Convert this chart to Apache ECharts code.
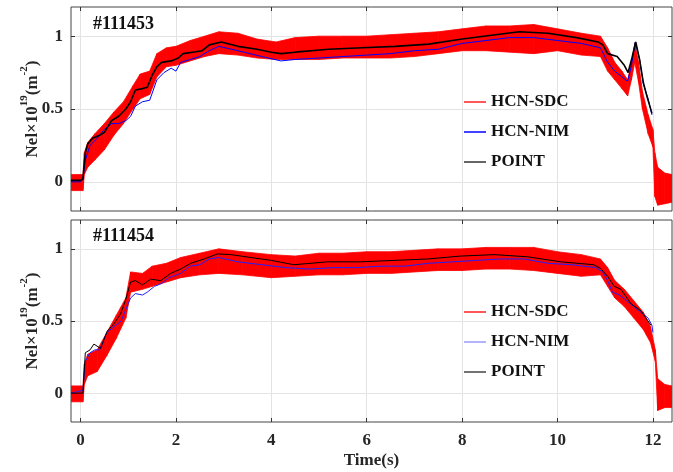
<!DOCTYPE html>
<html>
<head>
<meta charset="utf-8">
<script src="https://cdn.jsdelivr.net/npm/echarts@6/dist/echarts.min.js"></script>
<style>
  html, body { margin: 0; padding: 0; background: #fff; }
  #chart { width: 673px; height: 472px; }
</style>
</head>
<body>
<div id="chart"></div>
<script>
// tick labels
const xTicks = [0, 2, 4, 6, 8, 10, 12];
const yTicks = [0, 0.5, 1];
const shotNames = ['#111453', '#111454'];

// ---- shot #111453 ----
// POINT [t, value]
const pointTop = [[-0.2,0.01],[0,0.01],[0.05,0.02],[0.1,0.2],[0.15,0.26],[0.25,0.3],[0.4,0.32],[0.5,0.34],[0.65,0.42],[0.8,0.45],[0.95,0.5],[1.05,0.55],[1.15,0.63],[1.3,0.64],[1.4,0.65],[1.5,0.73],[1.6,0.79],[1.7,0.82],[1.9,0.83],[2.05,0.85],[2.15,0.88],[2.35,0.89],[2.55,0.9],[2.7,0.94],[2.95,0.96],[3.3,0.93],[3.7,0.91],[4.0,0.89],[4.2,0.88],[4.5,0.89],[5.2,0.91],[5.9,0.92],[6.6,0.93],[7.3,0.945],[8.0,0.98],[8.7,1.01],[9.2,1.03],[9.8,1.02],[10.4,0.99],[10.85,0.96],[10.95,0.94],[11.05,0.88],[11.25,0.86],[11.4,0.8],[11.48,0.75],[11.56,0.85],[11.64,0.96],[11.72,0.84],[11.8,0.68],[11.88,0.58],[11.98,0.47]];
// HCN-NIM [t, value]
const nimTop = [[-0.2,0.0],[0,0.0],[0.05,0.02],[0.1,0.15],[0.2,0.25],[0.35,0.3],[0.5,0.36],[0.65,0.4],[0.8,0.4],[0.95,0.42],[1.05,0.45],[1.15,0.52],[1.3,0.55],[1.45,0.56],[1.6,0.7],[1.75,0.75],[1.9,0.78],[2.0,0.76],[2.1,0.82],[2.3,0.84],[2.5,0.86],[2.7,0.9],[2.9,0.93],[3.3,0.9],[3.8,0.86],[4.2,0.83],[4.5,0.84],[5.0,0.85],[5.5,0.86],[6.0,0.87],[6.5,0.88],[7.0,0.9],[7.5,0.91],[8.0,0.95],[8.5,0.97],[9.0,0.99],[9.5,0.99],[10.0,0.97],[10.5,0.95],[10.9,0.92],[11.05,0.82],[11.2,0.76],[11.35,0.72],[11.47,0.69],[11.55,0.8],[11.63,0.96],[11.72,0.84],[11.8,0.67],[11.9,0.57],[11.98,0.46]];
// HCN-SDC is very noisy: read as lower / upper edge of its band
const sdcTopT    = [-0.2, 0.05, 0.08, 0.15, 0.3, 0.5, 0.7, 0.9, 1.1, 1.25, 1.45, 1.6, 1.8, 2.0, 2.3, 2.6, 2.9, 3.3, 3.7, 4.1, 4.5, 5.0, 5.5, 6.0, 6.5, 7.0, 7.5, 8.0, 8.5, 9.0, 9.5, 10.0, 10.5, 10.9, 11.05, 11.2, 11.35, 11.47, 11.55, 11.62, 11.7, 11.78, 11.9, 12.0, 12.04, 12.1, 12.25, 12.4];
const sdcTopLow  = [-0.06, -0.06, 0.05, 0.1, 0.15, 0.22, 0.32, 0.4, 0.5, 0.57, 0.6, 0.72, 0.79, 0.8, 0.83, 0.86, 0.88, 0.87, 0.85, 0.84, 0.84, 0.84, 0.85, 0.85, 0.85, 0.86, 0.88, 0.9, 0.9, 0.89, 0.88, 0.9, 0.87, 0.86, 0.76, 0.7, 0.64, 0.59, 0.7, 0.82, 0.68, 0.5, 0.33, 0.24, -0.1, -0.16, -0.15, -0.14];
const sdcTopHigh = [0.05, 0.05, 0.2, 0.27, 0.33, 0.4, 0.48, 0.55, 0.66, 0.74, 0.76, 0.88, 0.92, 0.93, 0.97, 1.0, 1.03, 1.02, 0.98, 0.96, 0.99, 1.0, 1.0, 1.0, 1.01, 1.02, 1.03, 1.05, 1.07, 1.07, 1.08, 1.05, 1.02, 1.0, 0.92, 0.82, 0.76, 0.7, 0.82, 0.95, 0.82, 0.62, 0.46, 0.36, 0.2, 0.1, 0.06, 0.05];

// ---- shot #111454 ----
const pointBot = [[-0.2,0.0],[0.05,0.0],[0.1,0.28],[0.2,0.3],[0.28,0.34],[0.42,0.31],[0.56,0.43],[0.7,0.48],[0.84,0.55],[0.94,0.64],[1.05,0.77],[1.15,0.78],[1.3,0.75],[1.47,0.79],[1.68,0.78],[1.89,0.83],[2.1,0.86],[2.31,0.9],[2.59,0.93],[2.87,0.965],[3.15,0.96],[3.57,0.94],[4.0,0.92],[4.47,0.89],[5.18,0.91],[5.87,0.91],[6.57,0.92],[7.28,0.93],[7.97,0.95],[8.67,0.96],[9.37,0.945],[10.07,0.91],[10.76,0.89],[10.9,0.865],[11.05,0.81],[11.19,0.74],[11.33,0.72],[11.54,0.62],[11.75,0.57],[11.96,0.47]];
const nimBot = [[-0.2,0.0],[0.05,0.02],[0.1,0.22],[0.2,0.28],[0.3,0.3],[0.4,0.3],[0.55,0.42],[0.7,0.46],[0.85,0.5],[0.95,0.58],[1.05,0.66],[1.15,0.69],[1.3,0.68],[1.4,0.7],[1.55,0.74],[1.7,0.76],[1.85,0.8],[2.1,0.83],[2.3,0.88],[2.5,0.89],[2.7,0.93],[2.9,0.94],[3.3,0.91],[3.8,0.89],[4.3,0.87],[4.8,0.86],[5.3,0.87],[5.8,0.87],[6.3,0.88],[6.8,0.88],[7.3,0.9],[7.8,0.91],[8.3,0.92],[8.8,0.93],[9.3,0.93],[9.8,0.9],[10.3,0.89],[10.8,0.87],[10.95,0.84],[11.05,0.78],[11.15,0.7],[11.3,0.68],[11.45,0.64],[11.6,0.6],[11.75,0.56],[11.9,0.52],[11.98,0.47],[12.0,0.42]];
const sdcBotT    = [-0.2, 0.05, 0.08, 0.15, 0.35, 0.55, 0.75, 0.95, 1.05, 1.3, 1.5, 1.8, 2.1, 2.5, 2.9, 3.4, 4.0, 4.5, 5.0, 5.5, 6.0, 6.5, 7.0, 7.5, 8.0, 8.5, 9.0, 9.5, 10.0, 10.5, 10.9, 11.05, 11.2, 11.4, 11.6, 11.8, 11.95, 12.05, 12.1, 12.25, 12.4];
const sdcBotLow  = [-0.06, -0.06, 0.06, 0.12, 0.15, 0.26, 0.38, 0.52, 0.7, 0.72, 0.74, 0.77, 0.8, 0.82, 0.83, 0.82, 0.8, 0.81, 0.82, 0.82, 0.83, 0.83, 0.84, 0.85, 0.85, 0.86, 0.86, 0.85, 0.83, 0.81, 0.82, 0.74, 0.66, 0.6, 0.52, 0.44, 0.35, 0.22, -0.12, -0.1, -0.1];
const sdcBotHigh = [0.05, 0.05, 0.2, 0.27, 0.3, 0.42, 0.54, 0.66, 0.84, 0.83, 0.88, 0.9, 0.94, 0.97, 1.0, 0.98, 0.96, 0.95, 0.97, 0.97, 0.98, 0.98, 0.99, 1.0, 1.0, 1.01, 1.01, 1.01, 0.98, 0.96, 0.93, 0.87, 0.78, 0.72, 0.64, 0.56, 0.46, 0.3, 0.1, 0.06, 0.05];

const FONT = 'Liberation Serif';
const grids = [
  { left: 71, top: 7, width: 601, height: 204 },
  { left: 71, top: 220, width: 601, height: 202 }
];

function xAxisFor(g, pos, showLabel) {
  return {
    type: 'value', gridIndex: g, position: pos, min: -0.2, max: 12.4,
    axisLine: { show: false, onZero: false },
    axisTick: { show: true, inside: true, length: 4, customValues: xTicks, lineStyle: { color: '#333' } },
    axisLabel: { show: showLabel, customValues: xTicks, margin: 10, fontFamily: FONT, fontWeight: 'bold', fontSize: 17, color: '#262626' },
    splitLine: { show: pos === 'bottom', lineStyle: { color: '#e3e3e3', width: 1 } },
    name: (g === 1 && pos === 'bottom') ? 'Time(s)' : '',
    nameLocation: 'middle', nameGap: 30, nameMoveOverlap: false,
    nameTextStyle: { fontFamily: FONT, fontWeight: 'bold', fontSize: 17, color: '#262626' }
  };
}

function yAxisFor(g, pos) {
  const left = pos === 'left';
  return {
    type: 'value', gridIndex: g, position: pos, min: -0.2, max: 1.2,
    axisLine: { show: false, onZero: false },
    axisTick: { show: true, inside: true, length: 4, customValues: yTicks, lineStyle: { color: '#333' } },
    axisLabel: { show: left, customValues: yTicks, margin: 8, fontFamily: FONT, fontWeight: 'bold', fontSize: 17, color: '#262626' },
    splitLine: { show: left, lineStyle: { color: '#e3e3e3', width: 1 } },
    name: left ? '{a|Nel×10}{s|19}{a|(m}{s|-2}{a|)}' : '',
    nameLocation: 'middle', nameGap: 30, nameRotate: 90, nameMoveOverlap: false,
    nameTextStyle: {
      rich: {
        a: { fontFamily: FONT, fontWeight: 'bold', fontSize: 17, color: '#262626', lineHeight: 22, verticalAlign: 'bottom' },
        s: { fontFamily: FONT, fontWeight: 'bold', fontSize: 11, color: '#262626', lineHeight: 12, verticalAlign: 'top' }
      }
    }
  };
}

// one quad per segment of the SDC band: [t0, lo0, hi0, t1, lo1, hi1]
function bandSegments(t, lo, hi) {
  const out = [];
  for (let i = 0; i < t.length - 1; i++) {
    out.push([t[i], lo[i], hi[i], t[i + 1], lo[i + 1], hi[i + 1]]);
  }
  return out;
}

function renderBand(params, api) {
  const p = [
    api.coord([api.value(0), api.value(2)]),
    api.coord([api.value(3), api.value(5)]),
    api.coord([api.value(3), api.value(4)]),
    api.coord([api.value(0), api.value(1)])
  ];
  return {
    type: 'polygon',
    shape: { points: p },
    style: { fill: '#ff0000', stroke: '#ff0000', lineWidth: 0.8 }
  };
}

function panelSeries(g, tArr, lo, hi, nim, point, nimColor, pointWidth) {
  return [
    { name: 'HCN-SDC', type: 'custom', xAxisIndex: g, yAxisIndex: g, renderItem: renderBand,
      data: bandSegments(tArr, lo, hi), encode: { x: [0, 3], y: [1, 2, 4, 5] },
      itemStyle: { color: '#ff0000' }, clip: true },
    { name: 'HCN-NIM', type: 'line', xAxisIndex: g, yAxisIndex: g, data: nim,
      symbol: 'none', lineStyle: { color: nimColor, width: 1 }, itemStyle: { color: nimColor } },
    { name: 'POINT', type: 'line', xAxisIndex: g, yAxisIndex: g, data: point,
      symbol: 'none', lineStyle: { color: '#000', width: pointWidth }, itemStyle: { color: '#000' } }
  ];
}

function legendFor(top, sdcColor, nimColor, pointColor) {
  return {
    orient: 'vertical', left: 459, top: top, icon: 'rect', itemWidth: 22, itemHeight: 1.5, itemGap: 12,
    textStyle: { fontFamily: FONT, fontWeight: 'bold', fontSize: 17, color: '#111', lineHeight: 18 },
    data: [
      { name: 'HCN-SDC', itemStyle: { color: sdcColor } },
      { name: 'HCN-NIM', itemStyle: { color: nimColor } },
      { name: 'POINT', itemStyle: { color: pointColor } }
    ]
  };
}

const chart = echarts.init(document.getElementById('chart'), null, { renderer: 'canvas' });
const option = {
  animation: false,
  backgroundColor: '#fff',
  title: shotNames.map((s, i) => ({
    text: s, left: 93, top: i === 0 ? 15 : 227, padding: 0,
    textStyle: { fontFamily: FONT, fontWeight: 'bold', fontSize: 18, color: '#111' }
  })),
  grid: grids.map(g => Object.assign({ show: true, borderColor: '#444', borderWidth: 1, backgroundColor: '#fff' }, g)),
  legend: [legendFor(88, '#ff2020', '#0000ff', '#333'), legendFor(298, '#ff2020', '#9a9aff', '#444')],
  xAxis: [xAxisFor(0, 'bottom', false), xAxisFor(1, 'bottom', true), xAxisFor(0, 'top', false), xAxisFor(1, 'top', false)],
  yAxis: [yAxisFor(0, 'left'), yAxisFor(1, 'left'), yAxisFor(0, 'right'), yAxisFor(1, 'right')],
  series: [].concat(
    panelSeries(0, sdcTopT, sdcTopLow, sdcTopHigh, nimTop, pointTop, '#0000ff', 1.6),
    panelSeries(1, sdcBotT, sdcBotLow, sdcBotHigh, nimBot, pointBot, '#2020ff', 1)
  )
};
chart.setOption(option);
window.addEventListener('resize', function () { chart.resize(); });
</script>
</body>
</html>
